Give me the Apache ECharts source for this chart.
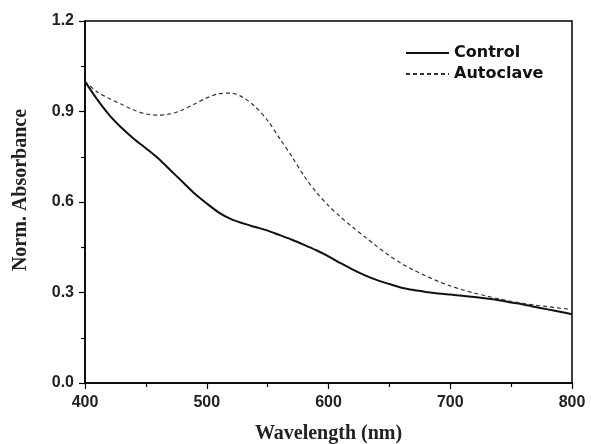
<!DOCTYPE html>
<html>
<head>
<meta charset="utf-8">
<script src="https://cdn.jsdelivr.net/npm/echarts@6/dist/echarts.min.js"></script>
<style>html,body{margin:0;padding:0;background:#fff}#c{width:591px;height:444px}</style>
</head>
<body>
<div id="c"></div>
<script>
var wavelengths = [400,410,420,430,440,450,460,470,480,490,500,510,520,530,540,550,560,570,580,590,600,610,620,630,640,650,660,670,680,690,700,710,720,730,740,750,760,770,780,790,800];
var control = [1.0,0.94,0.888,0.846,0.81,0.778,0.745,0.706,0.667,0.628,0.595,0.565,0.543,0.529,0.517,0.505,0.49,0.475,0.458,0.44,0.42,0.397,0.376,0.357,0.341,0.328,0.316,0.308,0.302,0.297,0.293,0.289,0.285,0.28,0.274,0.267,0.26,0.252,0.244,0.236,0.228];
var autoclave = [1.0,0.965,0.943,0.924,0.905,0.892,0.888,0.892,0.905,0.925,0.945,0.959,0.961,0.946,0.915,0.87,0.81,0.75,0.686,0.632,0.588,0.55,0.516,0.484,0.452,0.422,0.396,0.374,0.355,0.337,0.322,0.309,0.298,0.288,0.279,0.271,0.264,0.258,0.253,0.248,0.244];
var xTicks = [400,500,600,700,800];
var yTicks = ['0.0','0.3','0.6','0.9','1.2'];

function pairs(xs, ys){ return xs.map(function(x,i){return [x, ys[i]];}); }

var chart = echarts.init(document.getElementById('c'));
chart.setOption({
  animation:false,
  backgroundColor:'#fff',
  grid:{left:85,right:19,top:21,bottom:61,show:true,borderColor:'#000',borderWidth:1.5,containLabel:false,outerBoundsMode:'none'},
  legend:{
    left:405, top:45, padding:0, orient:'vertical', itemGap:5, itemWidth:43, itemHeight:14,
    itemStyle:{opacity:0},
    textStyle:{fontFamily:'DejaVu Sans',fontWeight:'bold',fontSize:16,color:'#111'},
    data:['Control','Autoclave']
  },
  xAxis:{
    type:'value', min:400, max:800, interval:100,
    name:'Wavelength (nm)', nameLocation:'middle', nameGap:41,
    nameTextStyle:{fontFamily:'Liberation Serif',fontWeight:'bold',fontSize:20,color:'#222'},
    axisLine:{show:true,lineStyle:{color:'#000',width:1.5}},
    axisTick:{show:true,inside:false,length:6,lineStyle:{color:'#000',width:1.2}},
    minorTick:{show:true,splitNumber:2,length:4,lineStyle:{color:'#000',width:1.2}},
    splitLine:{show:false},
    axisLabel:{fontFamily:'Liberation Sans',fontWeight:'bold',fontSize:16,color:'#222',margin:12,
      formatter:function(v){return xTicks.indexOf(v)>=0?String(v):'';}}
  },
  yAxis:{
    type:'value', min:0, max:1.2, interval:0.3,
    name:'Norm. Absorbance', nameLocation:'middle', nameGap:54,
    nameTextStyle:{fontFamily:'Liberation Serif',fontWeight:'bold',fontSize:20,color:'#222',padding:[0,0,0,24]},
    axisLine:{show:true,lineStyle:{color:'#000',width:1.5}},
    axisTick:{show:true,inside:false,length:6,lineStyle:{color:'#000',width:1.2}},
    minorTick:{show:true,splitNumber:2,length:4,lineStyle:{color:'#000',width:1.2}},
    splitLine:{show:false},
    axisLabel:{fontFamily:'Liberation Sans',fontWeight:'bold',fontSize:16,color:'#222',margin:11,
      formatter:function(v){var i=Math.round(v/0.3);return yTicks[i];}}
  },
  series:[
    {name:'Control',type:'line',data:pairs(wavelengths,control),smooth:0.3,symbol:'none',
      lineStyle:{color:'#111',width:2,type:'solid'},itemStyle:{color:'#111'}},
    {name:'Autoclave',type:'line',data:pairs(wavelengths,autoclave),smooth:0.3,symbol:'none',
      lineStyle:{color:'#333',width:1.2,type:[4,3]},itemStyle:{color:'#333'}}
  ]
});
</script>
</body>
</html>
